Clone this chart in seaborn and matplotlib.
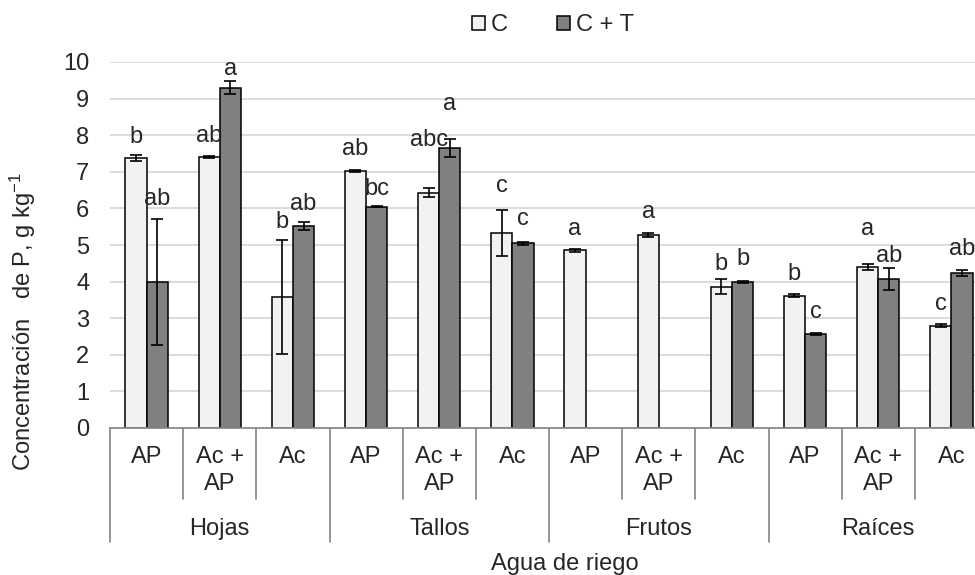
import numpy as np
import pandas as pd
import matplotlib
matplotlib.use("Agg")
import matplotlib.pyplot as plt
import matplotlib.transforms as mtrans
from matplotlib.lines import Line2D
from matplotlib.patches import Patch
import seaborn as sns

# ---------------- data ----------------
organs = ["Hojas", "Tallos", "Frutos", "Raíces"]
waters = ["AP", "Ac +\nAP", "Ac"]
series = ["C", "C + T"]

c_vals = [7.37, 7.40, 3.58, 7.02, 6.43, 5.33, 4.86, 5.27, 3.86, 3.62, 4.41, 2.80]
c_err = [0.08, 0.03, 1.55, 0.03, 0.12, 0.62, 0.04, 0.06, 0.20, 0.05, 0.08, 0.04]
t_vals = [4.00, 9.30, 5.52, 6.05, 7.65, 5.05, np.nan, np.nan, 4.00, 2.57, 4.06, 4.23]
t_err = [1.72, 0.17, 0.10, 0.02, 0.25, 0.04, np.nan, np.nan, 0.03, 0.03, 0.30, 0.08]

c_letters = ["b", "ab", "b", "ab", "abc", "c", "a", "a", "b", "b", "a", "c"]
t_letters = ["ab", "a", "ab", "bc", "a", "c", "", "", "b", "c", "ab", "ab"]
c_letter_y = [7.96, 7.99, 5.64, 7.61, 7.88, 6.60, 5.45, 5.89, 4.47, 4.22, 5.45, 3.38]
t_letter_y = [6.27, 9.82, 6.11, 6.52, 8.84, 5.70, np.nan, np.nan, 4.61, 3.18, 4.69, 4.88]

yticks = [0, 1, 2, 3, 4, 5, 6, 7, 8, 9, 10]

# ---------------- style ----------------
sns.set_style("white")
plt.rcParams["font.family"] = ["Liberation Sans", "DejaVu Sans"]
plt.rcParams["mathtext.fontset"] = "custom"
plt.rcParams["mathtext.rm"] = "Liberation Sans"
plt.rcParams["mathtext.it"] = "Liberation Sans:italic"
FS = 17
colors = ["#F2F2F2", "#808080"]
sepcol = "#8C8C8C"

cat_ids = [f"{o}|{w}" for o in organs for w in waters]
rows = []
for i, cid in enumerate(cat_ids):
    rows.append((cid, series[0], c_vals[i], c_err[i], c_letters[i], c_letter_y[i]))
    rows.append((cid, series[1], t_vals[i], t_err[i], t_letters[i], t_letter_y[i]))
df = pd.DataFrame(rows, columns=["cat", "serie", "val", "err", "lab", "laby"])
df = df.dropna(subset=["val"])

fig = plt.figure(figsize=(9.75, 5.75), dpi=100)
ax = fig.add_axes([110 / 975, 147 / 575, 878 / 975, 366 / 575])

sns.barplot(data=df, x="cat", y="val", hue="serie", order=cat_ids,
            hue_order=series, palette=colors, edgecolor="black",
            linewidth=1.1, width=0.58, gap=0, errorbar=None,
            saturation=1, legend=False, ax=ax)

for cont, s in zip(ax.containers, series):
    sub = df[df["serie"] == s].copy()
    sub["pos"] = sub["cat"].map({c: i for i, c in enumerate(cat_ids)})
    sub = sub.sort_values("pos")
    for bar, (_, r) in zip(cont, sub.iterrows()):
        xc = bar.get_x() + bar.get_width() / 2
        ax.errorbar(xc, r["val"], yerr=r["err"], fmt="none", ecolor="black",
                    elinewidth=1.2, capsize=4.5, capthick=1.2, zorder=4)
        if r["lab"]:
            ax.text(xc, r["laby"], r["lab"], ha="center", va="center",
                    fontsize=FS, clip_on=False, zorder=5)

ax.set_ylim(0, 10)
ax.set_xlim(-0.5, len(cat_ids) - 0.5)
ax.set_yticks(yticks)
ax.set_yticklabels([str(t) for t in yticks], fontsize=FS)
ax.set_xticks(range(len(cat_ids)))
ax.set_xticklabels(waters * len(organs), fontsize=FS, linespacing=1.32)
ax.tick_params(axis="both", length=0)
ax.tick_params(axis="y", pad=15)
ax.tick_params(axis="x", pad=13)
ax.set_xlabel("")
ax.set_ylabel("")
ax.yaxis.grid(True, color="#D9D9D9", linewidth=1.3)
ax.xaxis.grid(False)
ax.set_axisbelow(True)
for sp in ["left", "top", "right"]:
    ax.spines[sp].set_visible(False)
ax.spines["bottom"].set_color(sepcol)
ax.spines["bottom"].set_linewidth(1.3)

# category separators and group labels
tr = mtrans.blended_transform_factory(ax.transData, ax.transAxes)
short_end = -(499 - 428) / 366
long_end = -(542 - 428) / 366
ng = len(waters)
for k in range(len(cat_ids) + 1):
    xb = k - 0.5
    yend = long_end if k % ng == 0 else short_end
    ax.add_line(Line2D([xb, xb], [0, yend], transform=tr, color=sepcol,
                       linewidth=1.3, clip_on=False))
for g, organ in enumerate(organs):
    ax.text(g * ng + (ng - 1) / 2, -(529 - 428) / 366, organ, transform=tr,
            ha="center", va="center", fontsize=FS)

fig.text(565 / 975, 1 - 564 / 575, "Agua de riego", ha="center", va="center",
         fontsize=FS)
fig.text(23 / 975, 1 - 322 / 575, "Concentración   de P, g kg$^{-1}$",
         rotation=90, ha="center", va="center", fontsize=FS)

handles = [Patch(facecolor=colors[0], edgecolor="black", linewidth=1.1),
           Patch(facecolor=colors[1], edgecolor="black", linewidth=1.1)]
fig.legend(handles, series, loc="center", bbox_to_anchor=(553 / 975, 1 - 25 / 575),
           ncol=2, frameon=False, fontsize=FS, handlelength=0.55,
           handleheight=0.55, handletextpad=0.25, columnspacing=2.1,
           borderaxespad=0, borderpad=0)

fig.savefig("out.png", dpi=100)
